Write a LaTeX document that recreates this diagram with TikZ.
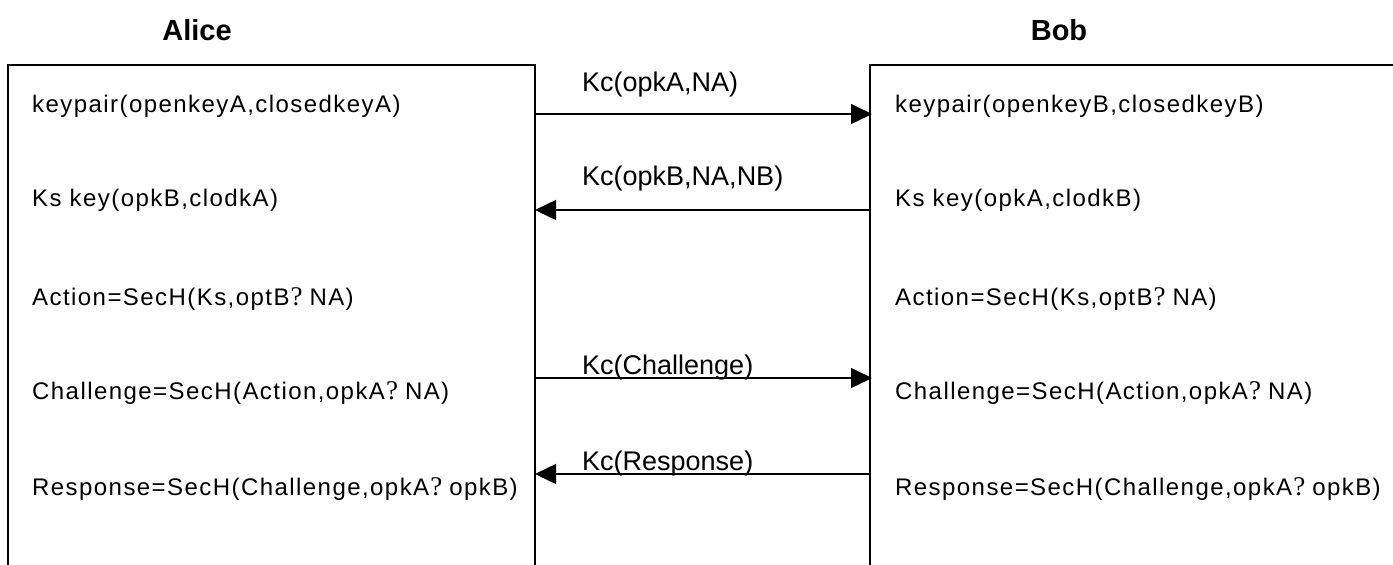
\documentclass[tikz,border=0pt]{standalone}
\usepackage{fontspec}
\setmainfont{Liberation Sans}
\newfontfamily\boxfont[LetterSpace=6]{Liberation Sans}
\newfontfamily\qfont{Liberation Serif}
\usetikzlibrary{arrows.meta}
\newcommand{\qm}{\kern1pt{\qfont\fontsize{27}{30}\selectfont ?}\kern7pt}
\begin{document}
\begin{tikzpicture}[x=1pt,y=-1pt,
  frame/.style={line width=1.5pt},
  msg/.style={line width=1.5pt,-{Triangle[length=21pt,width=20pt]}},
  lbl/.style={anchor=base west,inner sep=0pt,font=\fontsize{27}{30}\selectfont},
  row/.style={anchor=base west,inner sep=0pt,font=\boxfont\fontsize{24}{28}\selectfont},
  title/.style={anchor=base,inner sep=0pt,font=\bfseries\fontsize{29}{34}\selectfont}]
\useasboundingbox (0,0) rectangle (1393,565);
% titles
\node[title] (alice) at (197,40) {Alice};
\node[title] (bob) at (1059,40) {Bob};
% boxes
\draw[frame] (8,565) -- (8,65) -- (535,65) -- (535,565);
\draw[frame] (870,565) -- (870,65) -- (1393,65);
% anchor points on the box edges
\coordinate (a1) at (535,114);
\coordinate (b1) at (872,114);
\coordinate (a2) at (535,210);
\coordinate (b2) at (870,210);
\coordinate (a3) at (535,378);
\coordinate (b3) at (872,378);
\coordinate (a4) at (535,474);
\coordinate (b4) at (870,474);
% left rows
\node[row] (l1) at (32,112) {keypair(openkeyA,closedkeyA)};
\node[row] (l2) at (32,206) {Ks key(opkB,clodkA)};
\node[row] (l3) at (32,305) {Action=SecH(Ks,optB\qm NA)};
\node[row] (l4) at (32,399) {Challenge=SecH(Action,opkA\qm NA)};
\node[row] (l5) at (32,495) {Response=SecH(Challenge,opkA\qm opkB)};
% right rows
\node[row] (r1) at (895,112) {keypair(openkeyB,closedkeyB)};
\node[row] (r2) at (895,206) {Ks key(opkA,clodkB)};
\node[row] (r3) at (895,305) {Action=SecH(Ks,optB\qm NA)};
\node[row] (r4) at (895,399) {Challenge=SecH(Action,opkA\qm NA)};
\node[row] (r5) at (895,495) {Response=SecH(Challenge,opkA\qm opkB)};
% messages
\draw[msg] (a1) -- (b1);
\draw[msg] (b2) -- (a2);
\draw[msg] (a3) -- (b3);
\draw[msg] (b4) -- (a4);
\node[lbl] (m1) at (582,91) {Kc(opkA,NA)};
\node[lbl] (m2) at (582,185) {Kc(opkB,NA,NB)};
\node[lbl] (m3) at (582,374) {Kc(Challenge)};
\node[lbl] (m4) at (582,470) {Kc(Response)};
\end{tikzpicture}
\end{document}
